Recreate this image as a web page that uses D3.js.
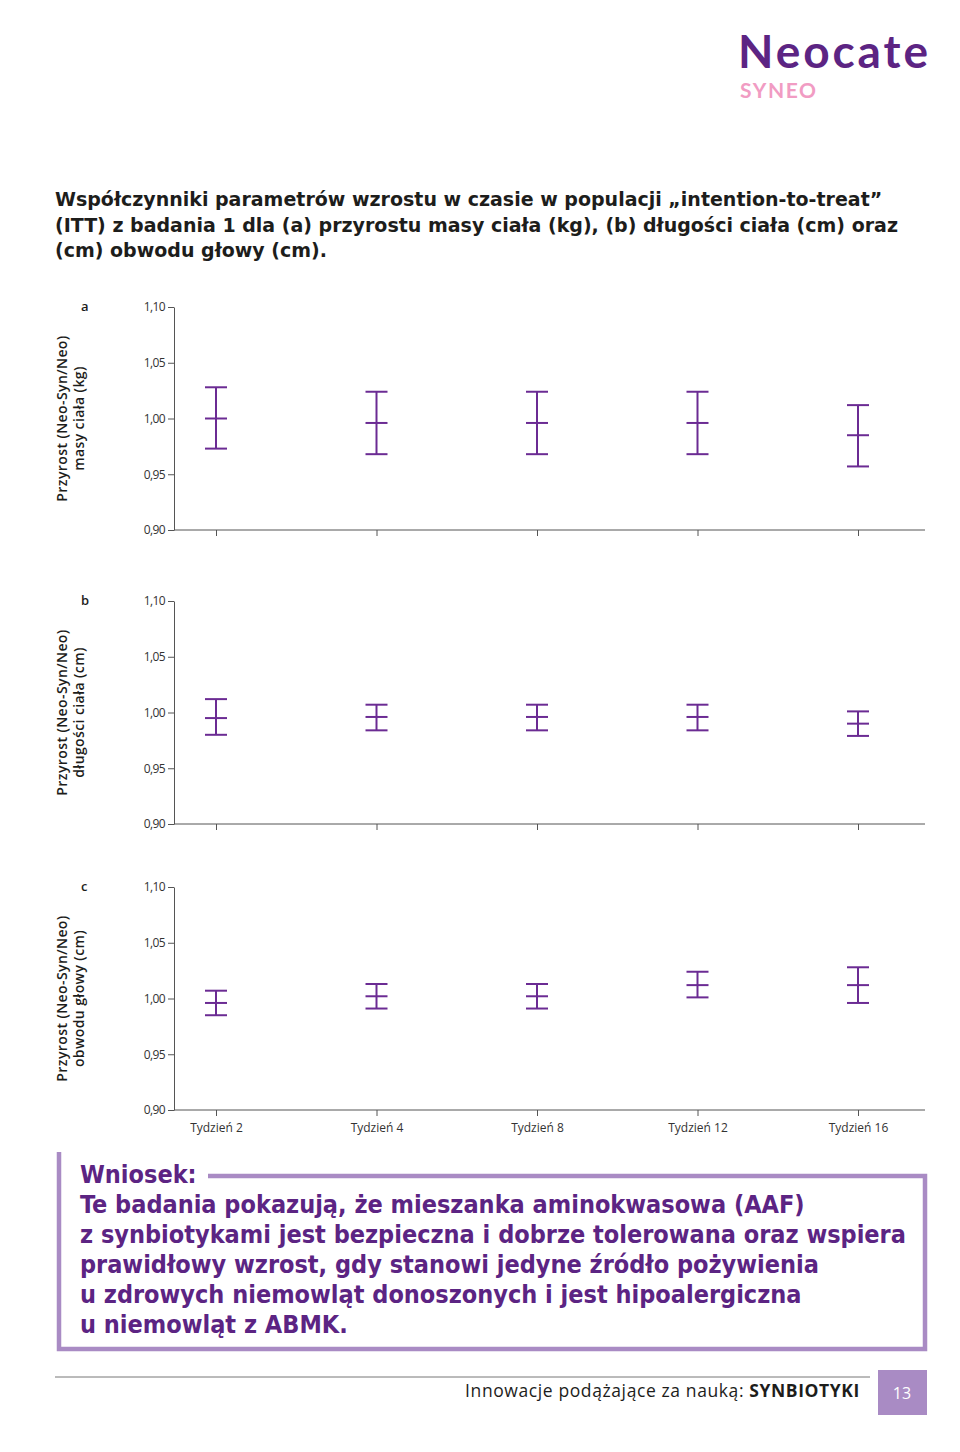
<html>
<head>
<meta charset="utf-8">
<script src="https://cdn.jsdelivr.net/npm/d3@7/dist/d3.min.js"></script>
<style>
  body { margin: 0; background: #fff; }
  text { font-family: "Open Sans", sans-serif; }
</style>
</head>
<body>
<script>

// chart data
const weeks = ["Tydzień 2", "Tydzień 4", "Tydzień 8", "Tydzień 12", "Tydzień 16"];
const yTicks = [0.90, 0.95, 1.00, 1.05, 1.10];

const weightMid  = [1.000, 0.996, 0.996, 0.996, 0.985];
const weightLow  = [0.973, 0.968, 0.968, 0.968, 0.957];
const weightHigh = [1.028, 1.024, 1.024, 1.024, 1.012];

const lengthMid  = [0.995, 0.996, 0.996, 0.996, 0.990];
const lengthLow  = [0.980, 0.984, 0.984, 0.984, 0.979];
const lengthHigh = [1.012, 1.007, 1.007, 1.007, 1.001];

const headMid  = [0.996, 1.002, 1.002, 1.012, 1.012];
const headLow  = [0.985, 0.991, 0.991, 1.001, 0.996];
const headHigh = [1.007, 1.013, 1.013, 1.024, 1.028];

const panels = [
  { letter: "a", label2: "masy ciała (kg)", mid: weightMid, low: weightLow, high: weightHigh, top: 307 },
  { letter: "b", label2: "długości ciała (cm)", mid: lengthMid, low: lengthLow, high: lengthHigh, top: 601 },
  { letter: "c", label2: "obwodu głowy (cm)", mid: headMid, low: headLow, high: headHigh, top: 887 }
];

const titleLines = [
  "Współczynniki parametrów wzrostu w czasie w populacji „intention-to-treat”",
  "(ITT) z badania 1 dla (a) przyrostu masy ciała (kg), (b) długości ciała (cm) oraz",
  "(cm) obwodu głowy (cm)."
];

const conclusion = [
  "Te badania pokazują, że mieszanka aminokwasowa (AAF)",
  "z synbiotykami jest bezpieczna i dobrze tolerowana oraz wspiera",
  "prawidłowy wzrost, gdy stanowi jedyne źródło pożywienia",
  "u zdrowych niemowląt donoszonych i jest hipoalergiczna",
  "u niemowląt z ABMK."
];

const purple = "#5c2483";
const barColor = "#6b2b93";
const lilac = "#a98bc4";

const svg = d3.select("body").append("svg")
  .attr("width", 960)
  .attr("height", 1452);

// logo
svg.append("text")
  .attr("x", 738).attr("y", 68)
  .attr("font-size", 46).attr("font-weight", 700)
  .attr("fill", purple)
  .style("font-family", "Lato, sans-serif")
  .attr("textLength", 190)
  .text("Neocate");
svg.append("text")
  .attr("x", 740).attr("y", 98)
  .attr("font-size", 21).attr("font-weight", 700)
  .attr("fill", "#f19cc3")
  .style("font-family", "Lato, sans-serif")
  .attr("textLength", 76)
  .text("SYNEO");

// title
svg.append("g").selectAll("text")
  .data(titleLines)
  .enter()
  .append("text")
  .attr("x", 55)
  .attr("y", (d, i) => 206 + i * 25.5)
  .attr("font-size", 19)
  .attr("font-weight", 700)
  .attr("fill", "#1d1d1b")
  .style("font-family", "DejaVu Sans, sans-serif")
  .text(d => d);

// chart scales
const plotW = 751;
const plotH = 223;
const x = d3.scalePoint().domain(weeks).range([42, 684]);
const y = d3.scaleLinear().domain([0.90, 1.10]).range([plotH, 0]);
const fmt = v => d3.format(".2f")(v).replace(".", ",");

panels.forEach(function(p, pi) {
  const g = svg.append("g")
    .attr("transform", `translate(174, ${p.top})`);

  // y axis
  const ya = g.append("g")
    .call(d3.axisLeft(y).tickValues(yTicks).tickFormat(fmt).tickSize(6).tickSizeOuter(0));
  ya.select(".domain").attr("stroke", "#555");
  ya.selectAll(".tick line").attr("stroke", "#555");
  ya.selectAll(".tick text")
    .attr("font-size", 12).attr("fill", "#333")
    .attr("letter-spacing", -0.6)
    .style("font-family", "Open Sans, sans-serif");

  // x axis
  const xa = g.append("g")
    .attr("transform", `translate(0, ${plotH})`)
    .call(d3.axisBottom(x).tickSize(6).tickSizeOuter(0));
  xa.select(".domain").remove();
  xa.selectAll(".tick line").attr("stroke", "#555");
  xa.selectAll(".tick text")
    .attr("font-size", 12).attr("fill", "#333")
    .attr("dy", "1.1em")
    .style("font-family", "Open Sans, sans-serif")
    .attr("display", pi === 2 ? null : "none");
  g.append("line")
    .attr("x1", 0).attr("x2", plotW)
    .attr("y1", plotH).attr("y2", plotH)
    .attr("stroke", "#555");

  // error bars
  const bars = g.append("g").selectAll("g")
    .data(weeks)
    .enter()
    .append("g")
    .attr("stroke", barColor)
    .attr("stroke-width", 2);

  bars.append("line")
    .attr("x1", d => x(d)).attr("x2", d => x(d))
    .attr("y1", (d, i) => y(p.high[i]))
    .attr("y2", (d, i) => y(p.low[i]));
  [p.high, p.mid, p.low].forEach(function(arr) {
    bars.append("line")
      .attr("x1", d => x(d) - 11).attr("x2", d => x(d) + 11)
      .attr("y1", (d, i) => y(arr[i]))
      .attr("y2", (d, i) => y(arr[i]));
  });

  // panel letter
  svg.append("text")
    .attr("x", 81).attr("y", p.top + 4)
    .attr("font-size", 13).attr("font-weight", 600)
    .attr("fill", "#1d1d1b")
    .text(p.letter);

  // y label
  const cy = p.top + plotH / 2;
  const lab = svg.append("text")
    .attr("transform", `translate(67, ${cy}) rotate(-90)`)
    .attr("text-anchor", "middle")
    .attr("font-size", 14).attr("font-weight", 600)
    .attr("letter-spacing", 0.4)
    .attr("fill", "#1d1d1b");
  lab.append("tspan").attr("x", 0).attr("dy", 0).text("Przyrost (Neo-Syn/Neo)");
  lab.append("tspan").attr("x", 0).attr("dy", 17).text(p.label2);
});

// conclusion box
const box = svg.append("g");
box.append("path")
  .attr("d", "M59,1152 L59,1349 L925,1349 L925,1176 L208,1176")
  .attr("fill", "none")
  .attr("stroke", lilac)
  .attr("stroke-width", 4.5);
box.append("text")
  .attr("x", 80).attr("y", 1183)
  .attr("font-size", 25).attr("font-weight", 700)
  .attr("fill", purple)
  .style("font-family", "DejaVu Sans Condensed, DejaVu Sans, sans-serif")
  .text("Wniosek:");
box.append("g").selectAll("text")
  .data(conclusion)
  .enter()
  .append("text")
  .attr("x", 80)
  .attr("y", (d, i) => 1213 + i * 30)
  .attr("font-size", 25).attr("font-weight", 700)
  .attr("fill", purple)
  .style("font-family", "DejaVu Sans Condensed, DejaVu Sans, sans-serif")
  .text(d => d);

// footer
svg.append("line")
  .attr("x1", 55).attr("x2", 870)
  .attr("y1", 1377).attr("y2", 1377)
  .attr("stroke", "#777").attr("stroke-width", 1);
const foot = svg.append("text")
  .attr("x", 860).attr("y", 1397)
  .attr("text-anchor", "end")
  .attr("font-size", 17.5)
  .attr("letter-spacing", 0.6)
  .attr("fill", "#1d1d1b");
foot.append("tspan").text("Innowacje podążające za nauką: ");
foot.append("tspan").attr("font-weight", 700).text("SYNBIOTYKI");
svg.append("rect")
  .attr("x", 878).attr("y", 1370)
  .attr("width", 49).attr("height", 45)
  .attr("fill", lilac);
svg.append("text")
  .attr("x", 902).attr("y", 1399)
  .attr("text-anchor", "middle")
  .attr("font-size", 16)
  .attr("fill", "#fff")
  .text("13");

</script>
</body>
</html>
